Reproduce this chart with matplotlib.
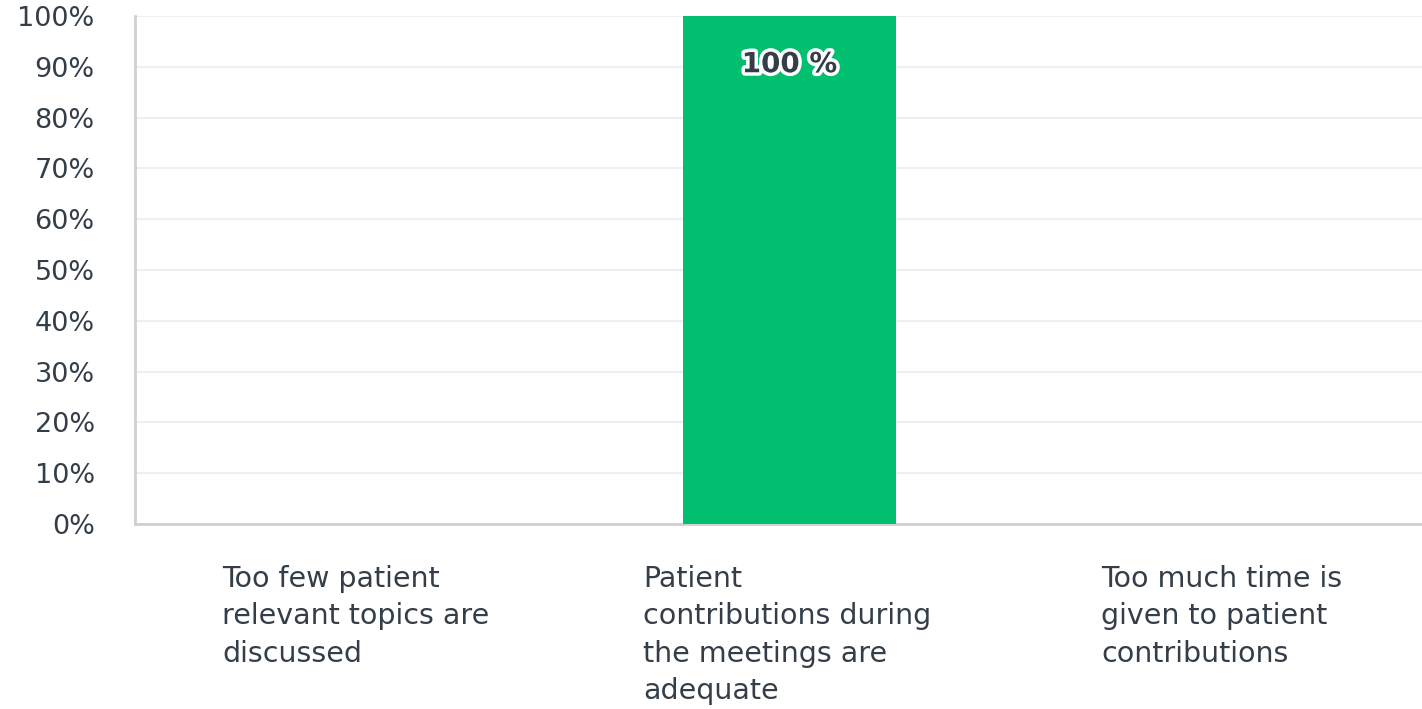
import matplotlib.pyplot as plt
import matplotlib.patheffects as pe

categories = ["Too few patient\nrelevant topics are\ndiscussed",
              "Patient\ncontributions during\nthe meetings are\nadequate",
              "Too much time is\ngiven to patient\ncontributions"]
values = [0, 100, 0]
label_offsets = [-0.30, -0.335, -0.285]

text_color = '#333e48'
bar_color = '#00bf6f'

fig = plt.figure(figsize=(14.22, 7.09), dpi=100)
ax = fig.add_axes([135 / 1422, 1 - 524 / 709, 1 - 135 / 1422, 508 / 709])

x = list(range(len(categories)))
ax.bar(x, values, width=0.49, color=bar_color, zorder=3)

for xi, v in zip(x, values):
    if v > 0:
        ax.text(xi, v - 9.5, f"{v} %", ha='center', va='center', fontsize=20, fontweight='bold',
                color=text_color, zorder=4,
                path_effects=[pe.withStroke(linewidth=5, foreground='white')])

ax.set_xlim(-0.5, 2.45)
ax.set_ylim(0, 100)
ax.set_yticks(range(0, 101, 10))
ax.set_yticklabels([f"{t}%" for t in range(0, 101, 10)], fontsize=19.5, color=text_color)
ax.tick_params(axis='y', length=0, pad=29)
ax.tick_params(axis='x', length=0, labelbottom=False)

ax.grid(axis='y', color='#efefef', linewidth=1.5, zorder=0)
ax.set_axisbelow(True)
for s in ['top', 'right']:
    ax.spines[s].set_visible(False)
for s in ['left', 'bottom']:
    ax.spines[s].set_color('#d0d0d0')
    ax.spines[s].set_linewidth(2)

for xi, cat, off in zip(x, categories, label_offsets):
    ax.text(xi + off, -8.0, cat, ha='left', va='top', fontsize=20.5, color=text_color,
            linespacing=1.43, clip_on=False)

fig.savefig("out.png", dpi=100)
